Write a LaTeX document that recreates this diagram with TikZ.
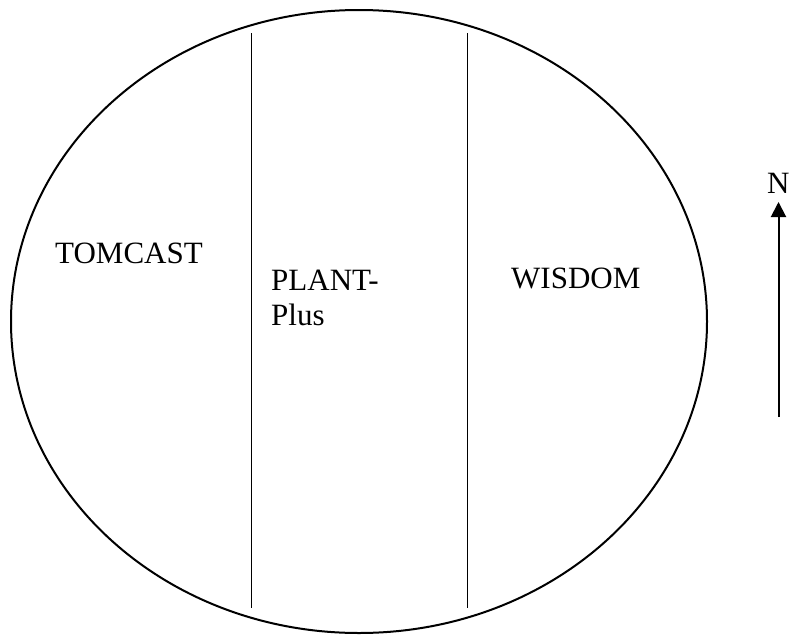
\documentclass[tikz,border=0pt]{standalone}
\usepackage{fontspec}
\setmainfont{Liberation Serif}
\usetikzlibrary{arrows.meta}
\begin{document}
\begin{tikzpicture}[x=1pt,y=-1pt,
  lbl/.style={inner sep=0pt,font=\fontsize{31}{35}\selectfont},
  divider/.style={line width=1.5pt},
  outline/.style={line width=2pt}]
\useasboundingbox (0,0) rectangle (790,635);
\draw[outline] (359,321.5) ellipse [x radius=348, y radius=311.5];
\draw[divider] (251.5,33) -- (251.5,608);
\draw[divider] (467.7,33) -- (467.7,608);
\node[lbl,anchor=base west] (tom) at (55,263) {TOMCAST};
\node[lbl,anchor=base west] (plant) at (271,290) {PLANT-};
\node[lbl,anchor=base west] (plus) at (271,325) {Plus};
\node[lbl,anchor=base west] (wis) at (511,288) {WISDOM};
\node[lbl,anchor=base west] (north) at (767,193) {N};
\coordinate (abot) at (778.5,417);
\draw[line width=2pt,-{Triangle[length=15pt,width=15pt]}] (abot) -- (778.5,202);
\end{tikzpicture}
\end{document}
